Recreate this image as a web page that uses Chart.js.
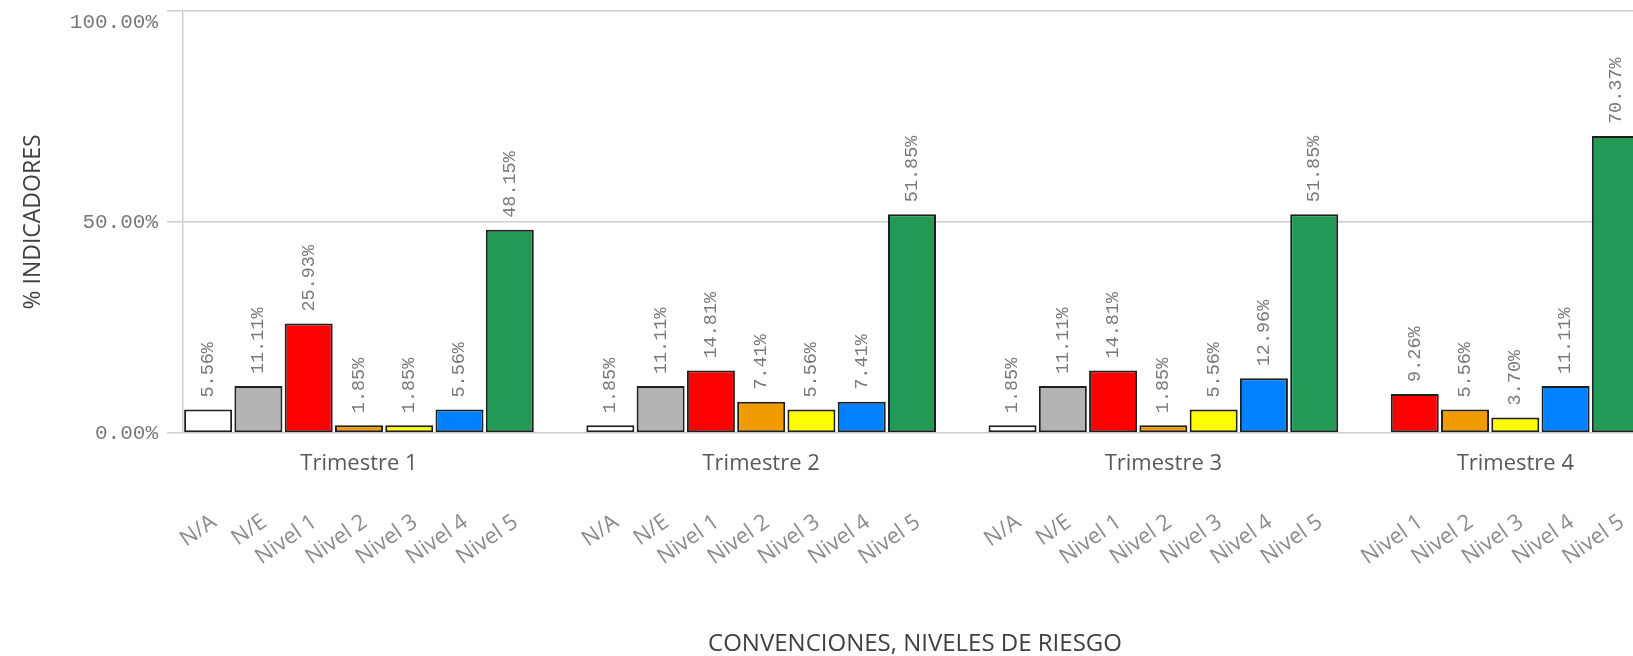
<!DOCTYPE html>
<html>
<head>
<meta charset="utf-8">
<script src="https://cdn.jsdelivr.net/npm/chart.js@4.4.1/dist/chart.umd.min.js"></script>
<style>
  html, body { margin: 0; padding: 0; overflow: hidden; background: #ffffff; }
  #wrap { position: absolute; left: 0; top: 0; width: 1641px; height: 656px; }
</style>
</head>
<body>
<div id="wrap"><canvas id="riskChart"></canvas></div>
<script>
const quarters = ["Trimestre 1", "Trimestre 2", "Trimestre 3", "Trimestre 4"];
const levelsFull = ["N/A", "N/E", "Nivel 1", "Nivel 2", "Nivel 3", "Nivel 4", "Nivel 5"];
const levelsQ4 = ["Nivel 1", "Nivel 2", "Nivel 3", "Nivel 4", "Nivel 5"];
const valuesQ1 = [5.56, 11.11, 25.93, 1.85, 1.85, 5.56, 48.15];
const valuesQ2 = [1.85, 11.11, 14.81, 7.41, 5.56, 7.41, 51.85];
const valuesQ3 = [1.85, 11.11, 14.81, 1.85, 5.56, 12.96, 51.85];
const valuesQ4 = [9.26, 5.56, 3.70, 11.11, 70.37];
const yTicks = [0, 50, 100];

const levelColors = {
  "N/A": "#ffffff",
  "N/E": "#b4b4b4",
  "Nivel 1": "#ff0000",
  "Nivel 2": "#f29b00",
  "Nivel 3": "#ffff00",
  "Nivel 4": "#0081ff",
  "Nivel 5": "#229955",
};

const SANS = "'Open Sans', sans-serif";
const MONO = "'Liberation Mono', 'DejaVu Sans Mono', monospace";

// flatten the quarters into one row of bars, one empty slot between groups
const groups = [
  { name: quarters[0], levels: levelsFull, values: valuesQ1 },
  { name: quarters[1], levels: levelsFull, values: valuesQ2 },
  { name: quarters[2], levels: levelsFull, values: valuesQ3 },
  { name: quarters[3], levels: levelsQ4, values: valuesQ4 },
];
const barLabels = [];
const barValues = [];
const barColors = [];
const groupLabels = [];
groups.forEach((g, gi) => {
  if (gi > 0) {
    barLabels.push("");
    barValues.push(null);
    barColors.push("#ffffff");
    groupLabels.push("");
  }
  const start = barLabels.length;
  g.levels.forEach((lvl, i) => {
    barLabels.push(lvl);
    barValues.push(g.values[i]);
    barColors.push(levelColors[lvl]);
    groupLabels.push("");
  });
  groupLabels[start + Math.floor(g.levels.length / 2)] = g.name;
});

// rotated value labels above each bar
const valueLabels = {
  id: "valueLabels",
  afterDatasetsDraw(chart) {
    const ctx = chart.ctx;
    const meta = chart.getDatasetMeta(0);
    ctx.save();
    ctx.font = "18.5px " + MONO;
    ctx.fillStyle = "#7a7a7a";
    ctx.textAlign = "left";
    ctx.textBaseline = "middle";
    meta.data.forEach((bar, i) => {
      const v = barValues[i];
      if (v === null) return;
      ctx.save();
      ctx.translate(bar.x, bar.y - 12);
      ctx.rotate(-Math.PI / 2);
      ctx.fillText(v.toFixed(2) + "%", 0, 0);
      ctx.restore();
    });
    ctx.restore();
  },
};

// x axis title, centred under the visible part of the plot
const xTitle = {
  id: "xTitle",
  afterDraw(chart) {
    const ctx = chart.ctx;
    ctx.save();
    ctx.font = "24px " + SANS;
    ctx.fillStyle = "#404040";
    ctx.textAlign = "center";
    ctx.textBaseline = "middle";
    ctx.fillText("CONVENCIONES, NIVELES DE RIESGO", chart.chartArea.left + 732, 644);
    ctx.restore();
  },
};

new Chart(document.getElementById("riskChart"), {
  type: "bar",
  data: {
    labels: barLabels,
    datasets: [
      {
        data: barValues,
        backgroundColor: barColors,
        borderColor: "#1f1f1f",
        borderWidth: 2,
        borderSkipped: false,
        barPercentage: 0.955,
        categoryPercentage: 1,
      },
    ],
  },
  options: {
    responsive: true,
    maintainAspectRatio: false,
    animation: false,
    events: [],
    layout: { padding: { top: 11, left: 0, right: 0, bottom: 0 } },
    plugins: {
      legend: { display: false },
      tooltip: { enabled: false },
    },
    scales: {
      x2: {
        type: "category",
        position: "bottom",
        weight: 0,
        offset: true,
        labels: groupLabels,
        grid: { display: false, drawTicks: false },
        border: { display: false },
        ticks: {
          autoSkip: false,
          maxRotation: 0,
          minRotation: 0,
          padding: 18,
          color: "#595959",
          font: { family: SANS, size: 22 },
        },
        afterFit(scale) {
          scale.height = 76;
          scale.paddingLeft = 0;
          scale.paddingRight = 0;
        },
      },
      x: {
        position: "bottom",
        weight: 1,
        offset: true,
        grid: { display: false, drawTicks: false },
        border: { display: false },
        ticks: {
          autoSkip: false,
          maxRotation: 35,
          minRotation: 35,
          padding: 0,
          labelOffset: 6,
          color: "#8c8c8c",
          font: { family: SANS, size: 22 },
        },
        afterFit(scale) {
          scale.height = 147;
          scale.paddingLeft = 0;
          scale.paddingRight = 0;
        },
      },
      y: {
        min: yTicks[0],
        max: yTicks[yTicks.length - 1],
        afterBuildTicks(scale) {
          scale.ticks = yTicks.map((v) => ({ value: v }));
        },
        grid: {
          color: "#cfcfcf",
          lineWidth: 1.5,
          tickLength: 16,
        },
        border: { display: true, color: "#cfcfcf", width: 1.5 },
        ticks: {
          padding: 9,
          color: "#7a7a7a",
          font: { family: MONO, size: 21, lineHeight: 1.05 },
          // top label sits just under its grid line
          callback: (v) => {
            const txt = Number(v).toFixed(2) + "%";
            return v === yTicks[yTicks.length - 1] ? ["", txt] : txt;
          },
        },
        title: {
          display: true,
          text: "% INDICADORES",
          color: "#404040",
          font: { family: SANS, size: 23 },
          padding: { top: 20, bottom: 0 },
        },
        afterFit(scale) {
          scale.width = 183;
          scale.paddingTop = 0;
          scale.paddingBottom = 0;
        },
      },
    },
  },
  plugins: [valueLabels, xTitle],
});
</script>
</body>
</html>
